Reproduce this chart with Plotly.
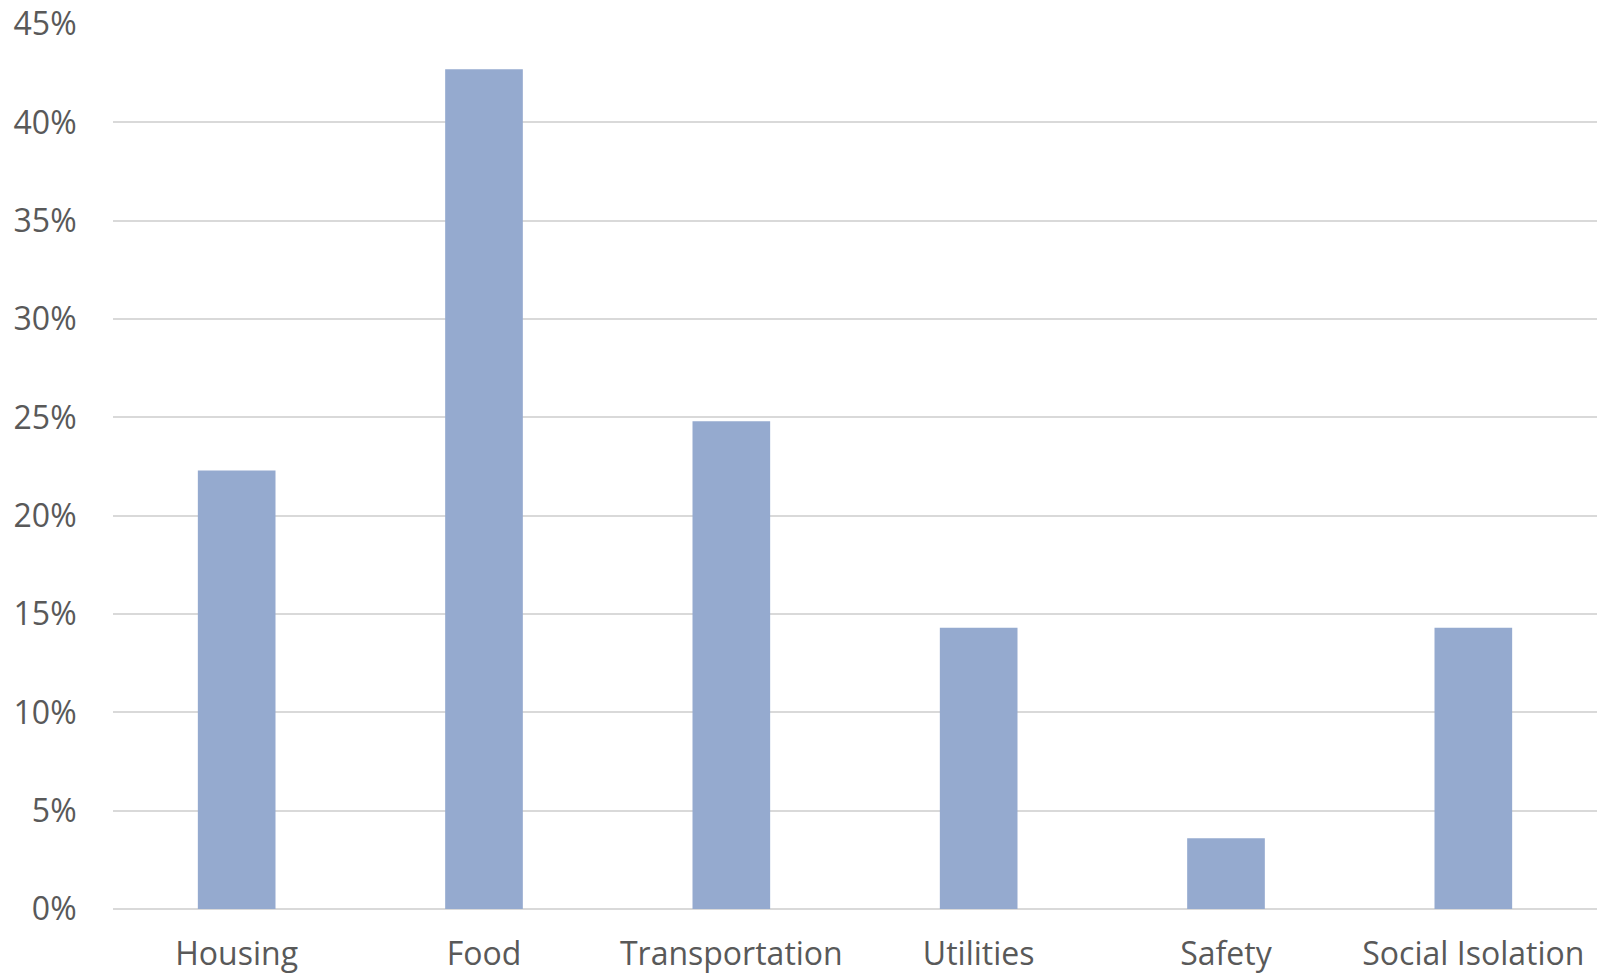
import plotly.graph_objects as go

# Share of respondents reporting each need
categories = ["Housing", "Food", "Transportation", "Utilities", "Safety", "Social Isolation"]
shares = [0.223, 0.427, 0.248, 0.143, 0.036, 0.143]

tick_vals = [0, 0.05, 0.10, 0.15, 0.20, 0.25, 0.30, 0.35, 0.40, 0.45]
tick_text = ["0%", "5%", "10%", "15%", "20%", "25%", "30%", "35%", "40%", "45%"]

fig = go.Figure(
    go.Bar(
        x=categories,
        y=shares,
        marker=dict(color="#95AACF", line=dict(width=0)),
        width=0.314,
    )
)

fig.update_layout(
    width=1597,
    height=977,
    margin=dict(l=113, r=0, t=24, b=68),
    plot_bgcolor="white",
    paper_bgcolor="white",
    showlegend=False,
    font=dict(family="Open Sans", color="#595959", size=32),
)

fig.update_yaxes(
    range=[0, 0.45],
    tickvals=tick_vals,
    ticktext=tick_text,
    showgrid=True,
    gridcolor="#D9D9D9",
    gridwidth=1.5,
    zeroline=True,
    zerolinecolor="#D9D9D9",
    zerolinewidth=1.5,
    showline=False,
    ticks="outside",
    ticklen=29,
    tickcolor="rgba(0,0,0,0)",
    automargin=False,
)

fig.update_xaxes(
    showgrid=False,
    showline=False,
    ticks="outside",
    ticklen=17,
    tickcolor="rgba(0,0,0,0)",
    automargin=False,
)

fig.write_html("out.html")
